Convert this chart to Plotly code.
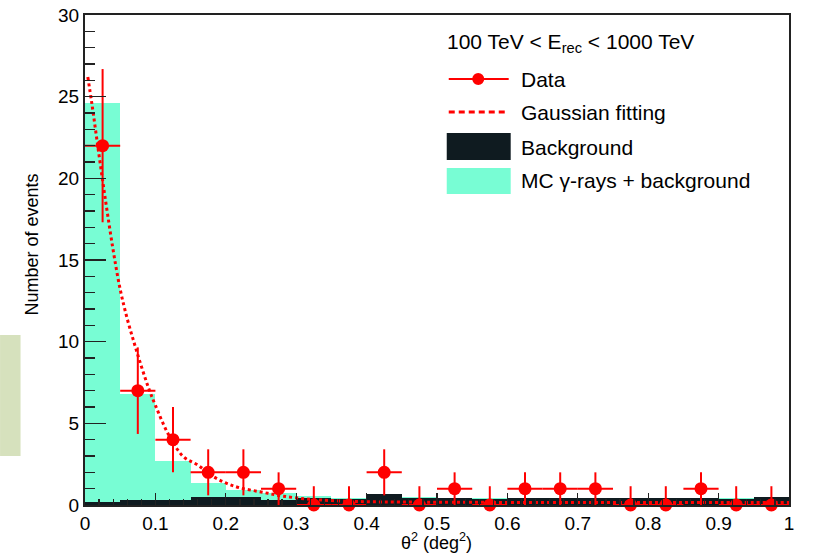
import plotly.graph_objects as go

# ---------------- data ----------------
bin_centers = [0.025, 0.075, 0.125, 0.175, 0.225, 0.275, 0.325, 0.375, 0.425, 0.475,
               0.525, 0.575, 0.625, 0.675, 0.725, 0.775, 0.825, 0.875, 0.925, 0.975]
data_counts = [22, 7, 4, 2, 2, 1, 0, 0, 2, 0, 1, 0, 1, 1, 1, 0, 0, 1, 0, 0]
data_err_up = [4.69, 2.65, 2.0, 1.41, 1.41, 1.0, 1.15, 1.15, 1.41, 1.15,
               1.0, 1.15, 1.0, 1.0, 1.0, 1.15, 1.15, 1.0, 1.15, 1.15]
data_err_down = [4.69, 2.65, 2.0, 1.41, 1.41, 1.0, 0, 0, 1.41, 0,
                 1.0, 0, 1.0, 1.0, 1.0, 0, 0, 1.0, 0, 0]
mc_gamma_plus_bkg = [24.6, 6.8, 2.7, 1.35, 0.9, 0.75, 0.55, 0.45, 0.7, 0.5,
                     0.45, 0.4, 0.45, 0.4, 0.45, 0.4, 0.45, 0.45, 0.4, 0.5]
background = [0.2, 0.3, 0.3, 0.5, 0.5, 0.3, 0.4, 0.35, 0.7, 0.45,
              0.4, 0.35, 0.4, 0.4, 0.45, 0.4, 0.4, 0.45, 0.35, 0.5]
fit_x = [0.004, 0.01, 0.02, 0.03, 0.04, 0.05, 0.06, 0.07, 0.08, 0.09, 0.10, 0.12, 0.14,
         0.16, 0.18, 0.20, 0.22, 0.25, 0.28, 0.32, 0.36, 0.40, 0.50, 0.60, 0.70, 0.80, 0.90, 1.0]
fit_y = [26.2, 24.5, 21.4, 18.4, 15.6, 13.2, 11.4, 9.9, 8.5, 7.2, 6.1, 4.2, 2.95,
         2.45, 1.8, 1.35, 1.05, 0.8, 0.55, 0.35, 0.25, 0.2, 0.17, 0.16, 0.16, 0.15, 0.15, 0.15]
bin_width = 0.05
x_tick_vals = [0, 0.1, 0.2, 0.3, 0.4, 0.5, 0.6, 0.7, 0.8, 0.9, 1]
x_tick_text = ["0", "0.1", "0.2", "0.3", "0.4", "0.5", "0.6", "0.7", "0.8", "0.9", "1"]
y_tick_vals = [0, 5, 10, 15, 20, 25, 30]

CYAN = "#78fdd4"
DARK = "#0f1b20"
RED = "#ff0000"
FONT = "Liberation Sans, Arial, sans-serif"

fig = go.Figure()
fig.add_trace(go.Bar(x=bin_centers, y=mc_gamma_plus_bkg, width=bin_width,
                     marker=dict(color=CYAN, line=dict(width=0)), showlegend=False))
fig.add_trace(go.Bar(x=bin_centers, y=background, width=bin_width,
                     marker=dict(color=DARK, line=dict(width=0)), showlegend=False))
fig.add_trace(go.Scatter(x=fit_x, y=fit_y, mode="lines",
                         line=dict(color=RED, width=3, dash="3px,3px", shape="spline"),
                         showlegend=False))
fig.add_trace(go.Scatter(x=bin_centers, y=data_counts, mode="markers",
                         marker=dict(color=RED, size=13),
                         error_y=dict(type="data", array=data_err_up, arrayminus=data_err_down,
                                      symmetric=False, color=RED, thickness=2, width=0),
                         error_x=dict(type="constant", value=bin_width / 2, color=RED,
                                      thickness=2, width=0),
                         cliponaxis=False, showlegend=False))

# pixel -> paper helpers (plot area 85..789.5 x 15..505)
L, R, T, B = 85, 789.5, 15, 505
def X(px):
    return (px - L) / (R - L)
def Y(py):
    return (B - py) / (B - T)

shapes = []
annotations = []
# legend
shapes.append(dict(type="line", xref="paper", yref="paper", x0=X(449), x1=X(509), y0=Y(79), y1=Y(79),
                   line=dict(color=RED, width=2)))
shapes.append(dict(type="circle", xref="paper", yref="paper", x0=X(472.5), x1=X(484.5),
                   y0=Y(73), y1=Y(85), fillcolor=RED, line=dict(width=0)))
shapes.append(dict(type="line", xref="paper", yref="paper", x0=X(449), x1=X(509), y0=Y(112), y1=Y(112),
                   line=dict(color=RED, width=3, dash="6px,4px")))
shapes.append(dict(type="rect", xref="paper", yref="paper", x0=X(447), x1=X(511), y0=Y(133), y1=Y(160),
                   fillcolor=DARK, line=dict(width=0)))
shapes.append(dict(type="rect", xref="paper", yref="paper", x0=X(447), x1=X(511), y0=Y(168), y1=Y(194),
                   fillcolor=CYAN, line=dict(width=0)))
# light rectangle at the left edge
shapes.append(dict(type="rect", xref="paper", yref="paper", x0=X(0), x1=X(20.5), y0=Y(335), y1=Y(456),
                   fillcolor="#d6e1bd", line=dict(width=0), layer="below"))

lf = dict(family=FONT, size=21, color="black")
annotations.append(dict(xref="paper", yref="paper", x=X(445), y=Y(43), xanchor="left", yanchor="middle",
                        text="100 TeV &lt; E<sub>rec</sub> &lt; 1000 TeV", showarrow=False, font=lf))
for txt, py in [("Data", 79), ("Gaussian fitting", 112), ("Background", 147), ("MC γ-rays + background", 181)]:
    annotations.append(dict(xref="paper", yref="paper", x=X(519), y=Y(py), xanchor="left", yanchor="middle",
                            text=txt, showarrow=False, font=lf))
# axis titles
annotations.append(dict(xref="paper", yref="paper", x=X(31.5), y=Y(245), xanchor="center", yanchor="middle",
                        text="Number of events", textangle=-90, showarrow=False,
                        font=dict(family=FONT, size=18, color="black")))
annotations.append(dict(xref="paper", yref="paper", x=X(437), y=Y(541), xanchor="center", yanchor="middle",
                        text="θ<sup>2</sup> (deg<sup>2</sup>)", showarrow=False,
                        font=dict(family=FONT, size=18, color="black")))

fig.update_layout(
    width=813, height=556,
    margin=dict(l=L, r=813 - R, t=T, b=556 - B, autoexpand=False),
    paper_bgcolor="white", plot_bgcolor="white",
    barmode="overlay", bargap=0,
    shapes=shapes, annotations=annotations,
    font=dict(family=FONT, color="black"),
    xaxis=dict(range=[0, 1], tickvals=x_tick_vals, ticktext=x_tick_text, automargin=False,
               ticks="inside", ticklen=12, tickwidth=1.3, tickcolor="#222",
               minor=dict(dtick=0.02, ticks="inside", ticklen=6, tickwidth=1.3, tickcolor="#222"),
               showline=True, linecolor="#222", linewidth=2, mirror=True,
               showgrid=False, zeroline=False,
               tickfont=dict(family=FONT, size=19, color="black")),
    yaxis=dict(range=[0, 30], tickvals=y_tick_vals, automargin=False,
               ticks="inside", ticklen=21, tickwidth=1.3, tickcolor="#222",
               minor=dict(dtick=1, ticks="inside", ticklen=10, tickwidth=1.3, tickcolor="#222"),
               showline=True, linecolor="#222", linewidth=2, mirror=True,
               showgrid=False, zeroline=False,
               tickfont=dict(family=FONT, size=19, color="black")),
)

fig.write_html("out.html", config={"displayModeBar": False, "staticPlot": True},
               post_script="document.body.style.margin='0';document.body.style.overflow='hidden';")
